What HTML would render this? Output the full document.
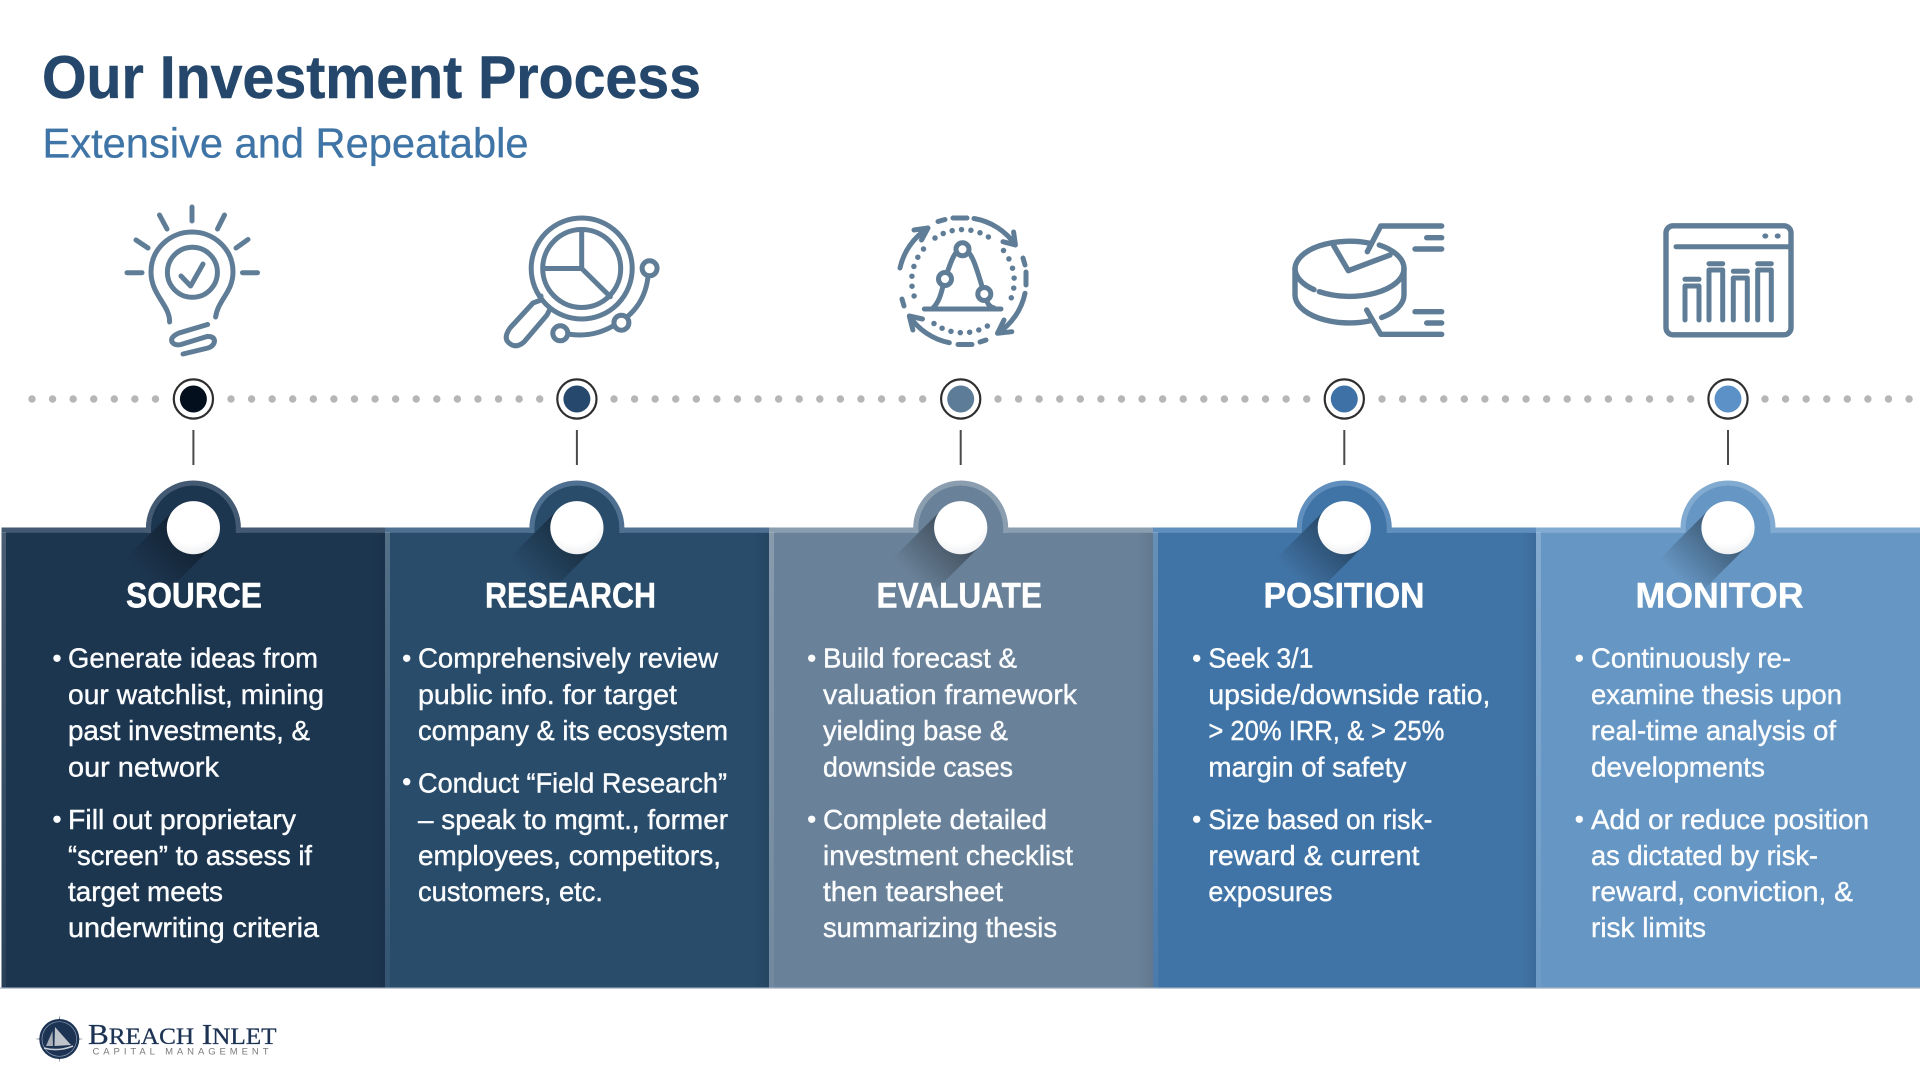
<!DOCTYPE html>
<html><head><meta charset="utf-8"><title>Our Investment Process</title>
<style>
html,body{margin:0;padding:0;background:#fff}
svg{display:block}
text{font-family:"Liberation Sans",sans-serif}
.b{font-size:28px;fill:#fbfcfd;stroke:#fbfcfd;stroke-width:.4}
.h{font-size:35px;font-weight:700;fill:#fff;stroke:#fff;stroke-width:.4}
.ic{fill:none;stroke:#5f7d96;stroke-width:5;stroke-linecap:round;stroke-linejoin:round}
</style></head><body>
<svg width="1920" height="1080" viewBox="0 0 1920 1080" xmlns="http://www.w3.org/2000/svg">
<defs>
<linearGradient id="sh" gradientUnits="userSpaceOnUse" x1="0" y1="0" x2="-50" y2="50"><stop offset="0.2" stop-color="#000" stop-opacity=".34"/><stop offset="1" stop-color="#000" stop-opacity="0"/></linearGradient>
<radialGradient id="ball" cx=".45" cy=".3" r=".85"><stop offset=".6" stop-color="#fff"/><stop offset="1" stop-color="#e2e4e8"/></radialGradient>
<linearGradient id="edge" x1="0" x2="1" y1="0" y2="0"><stop offset="0" stop-color="#000" stop-opacity="0"/><stop offset="1" stop-color="#000" stop-opacity=".08"/></linearGradient>
<linearGradient id="lb" x1="0" x2="0" y1="0" y2="1"><stop offset="0" stop-color="#fff" stop-opacity=".2"/><stop offset="1" stop-color="#fff" stop-opacity=".05"/></linearGradient>
<g id="shadow"><polygon points="-18.7,-18.7 18.7,18.7 -45,82.4 -82.4,45" fill="url(#sh)"/></g>
</defs>
<rect width="1920" height="1080" fill="#fff"/>

<!-- Title -->
<text x="42" y="98" font-size="60" font-weight="700" fill="#24476b" stroke="#24476b" stroke-width=".5" textLength="659" lengthAdjust="spacingAndGlyphs">Our Investment Process</text>
<text x="42.5" y="157.5" font-size="42" fill="#3f74a6" stroke="#3f74a6" stroke-width=".3" textLength="486" lengthAdjust="spacingAndGlyphs">Extensive and Repeatable</text>

<!-- Icon 1: bulb -->
<g class="ic">
<path d="M192,207V221M159.5,215L167,229M224.5,215L217.5,229M136,240L148,248M248,239.5L236,248M127,272.7H142M242.5,272.7H257.5"/>
<path d="M169.6,322C170,305 151,295 151,272C151,249 170,232 192,232C214,232 233,249 233,272C233,292 218,300 215.6,317"/>
<circle cx="192.4" cy="272.3" r="25"/>
<path d="M181,276L190.6,286L203,264"/>
<path d="M207.6,324.5L179,333Q170,337 172,342Q175,346 181,344.5L207,336.5Q214,336 214.5,341Q214,346 208,348L183,354"/>
</g>

<!-- Icon 2: magnifier -->
<g class="ic">
<circle cx="581.7" cy="268.5" r="50.5"/>
<circle cx="581.7" cy="268.5" r="39"/>
<path d="M581.7,230V268.5H544M581.7,268.5L610.3,296.7"/>
<path d="M541,296L541,300L533,303L510,328Q503,338 509,343Q516,349 524,342L547,315L550,309"/>
<circle cx="649.6" cy="268.3" r="7.5"/>
<circle cx="621.4" cy="322.7" r="7.5"/>
<circle cx="560.3" cy="333.3" r="7.5"/>
<path d="M648,277Q645,302 627,317M613,326Q592,338 568,334"/>
</g>

<!-- Icon 3: cycle -->
<g class="ic">
<path d="M900,268A63,63 0 0 1 927.9,228.3M914,230L928,228L921.5,240"/>
<path d="M974,218.5A63,63 0 0 1 1015.4,245M1013.6,232L1015.4,245L1003,241.7"/>
<path d="M1025,293.3A63,63 0 0 1 997.5,333.3M1011.8,331.7L997.5,333.3L1004,320"/>
<path d="M949.3,342.7A63,63 0 0 1 909.3,316M922.5,319L909.3,316L912.9,330"/>
<path d="M938,221.5L945,219.5M953,218H967M902,299L904,306M1023,258L1025,265M1026,272V285M958,344.5H972M980,342L986,340"/>
<path stroke-dasharray="0 9.4" stroke-width="5.5" d="M935,238A49,49 0 0 1 990,238"/>
<path stroke-dasharray="0 10" stroke-width="5.5" d="M923.5,249A49,49 0 0 0 917,303"/>
<path stroke-dasharray="0 9.4" stroke-width="5.5" d="M934,323.5A49,49 0 0 0 989,325"/>
<path stroke-dasharray="0 10" stroke-width="5.5" d="M1003.5,250.5A49,49 0 0 1 1008,305"/>
<path d="M924.3,309H1001M933,308C941,300 942,288 945,279C950,265 954,249 962.5,249C972,249 977,270 984.3,294C987,303 989,307 994,308"/>
<circle cx="945" cy="279" r="6.5" fill="#fff"/>
<circle cx="962.5" cy="249.3" r="6.5" fill="#fff"/>
<circle cx="984.3" cy="294" r="6.5" fill="#fff"/>
</g>

<!-- Icon 4: pie -->
<g class="ic" style="stroke-width:5.4">
<path d="M1370,243.3A54.5,28 0 0 0 1295,268.3A54.5,28 0 0 0 1314,289.6"/>
<path d="M1319.3,291.7A54.5,28 0 0 0 1404,268.3A54.5,28 0 0 0 1379.3,245"/>
<path d="M1333.3,245L1348.3,270.7L1390,255"/>
<path d="M1295,268.3V295A54.5,28 0 0 0 1370,320.9"/>
<path d="M1404,268.3V295A54.5,28 0 0 1 1381.7,317.5"/>
<path d="M1367.3,251.7L1380.7,226H1441.7M1366.7,310L1380.7,334.3H1441.7"/>
<path d="M1426.7,237.7H1441.7M1415,249H1441.7M1415,311.7H1441.7M1426.7,323H1441.7"/>
</g>

<!-- Icon 5: browser chart -->
<g class="ic">
<rect x="1666" y="225.8" width="125" height="109" rx="7" style="stroke-width:5.4"/>
<path d="M1676,246.7H1789"/>
<path d="M1685,320V286H1699V320M1709,320V270H1722.7V320M1733.3,320V278H1747.3V320M1757.7,320V270H1771.3V320"/>
<path d="M1685,279.3H1699M1709,263.7H1722.7M1733.3,271.3H1747.3M1757.7,263.7H1771.3"/>
</g>
<ellipse cx="1765.3" cy="236" rx="3" ry="2.6" fill="#5f7d96"/>
<ellipse cx="1777.7" cy="236" rx="3" ry="2.6" fill="#5f7d96"/>

<!-- Dotted timeline -->
<g stroke="#b6b6b6" stroke-width="7.4" stroke-linecap="round" stroke-dasharray="0 20.58" fill="none">
<line x1="32" y1="399" x2="157" y2="399"/>
<line x1="231" y1="399" x2="541" y2="399"/>
<line x1="614" y1="399" x2="924" y2="399"/>
<line x1="998" y1="399" x2="1308" y2="399"/>
<line x1="1382" y1="399" x2="1692" y2="399"/>
<line x1="1765" y1="399" x2="1911" y2="399"/>
</g>
<g fill="#fff" stroke="#2f2f2f" stroke-width="2.2">
<circle cx="193.4" cy="399" r="19.6"/><circle cx="576.9" cy="399" r="19.6"/><circle cx="960.7" cy="399" r="19.6"/><circle cx="1344.3" cy="399" r="19.6"/><circle cx="1728" cy="399" r="19.6"/>
</g>
<circle cx="193.4" cy="399" r="13.5" fill="#040f1d"/>
<circle cx="576.9" cy="399" r="13.5" fill="#25486c"/>
<circle cx="960.7" cy="399" r="13.5" fill="#5d7c98"/>
<circle cx="1344.3" cy="399" r="13.5" fill="#3e72a6"/>
<circle cx="1728" cy="399" r="13.5" fill="#5b91c6"/>
<g stroke="#4a4a4a" stroke-width="2">
<line x1="193.4" y1="430" x2="193.4" y2="465"/><line x1="576.9" y1="430" x2="576.9" y2="465"/><line x1="960.7" y1="430" x2="960.7" y2="465"/><line x1="1344.3" y1="430" x2="1344.3" y2="465"/><line x1="1728" y1="430" x2="1728" y2="465"/>
</g>

<!-- Panels -->
<rect x="1.5" y="527.5" width="384" height="460.5" fill="#1d3650"/>
<rect x="385" y="527.5" width="384" height="460.5" fill="#294c6b"/>
<rect x="769" y="527.5" width="384" height="460.5" fill="#6a8299"/>
<rect x="1153" y="527.5" width="383" height="460.5" fill="#4174a6"/>
<rect x="1536" y="527.5" width="384" height="460.5" fill="#6696c3"/>
<!-- right-edge shadows -->
<rect x="369" y="533" width="16" height="455" fill="url(#edge)"/>
<rect x="753" y="533" width="16" height="455" fill="url(#edge)"/>
<rect x="1137" y="533" width="16" height="455" fill="url(#edge)"/>
<rect x="1520" y="533" width="16" height="455" fill="url(#edge)"/>
<!-- light bands -->
<rect x="1.5" y="527.5" width="384" height="5.3" fill="#435a72"/><rect x="1.5" y="532" width="4.5" height="456" fill="url(#lb)"/>
<rect x="385" y="527.5" width="384" height="5.3" fill="#4f7090"/><rect x="385" y="532" width="5" height="456" fill="url(#lb)"/>
<rect x="769" y="527.5" width="384" height="5.3" fill="#8a9eb0"/><rect x="769" y="532" width="5" height="456" fill="url(#lb)"/>
<rect x="1153" y="527.5" width="383" height="5.3" fill="#618fbd"/><rect x="1153" y="532" width="5" height="456" fill="url(#lb)"/>
<rect x="1536" y="527.5" width="384" height="5.3" fill="#82abd2"/><rect x="1536" y="532" width="5" height="456" fill="url(#lb)"/>
<rect x="0" y="987.5" width="1920" height="1.2" fill="#a9b6c4"/>

<!-- Domes -->
<g>
<path d="M145.9,533V528A47.5,47.5 0 0 1 240.9,528V533Z" fill="#435a72"/><path d="M151,535V528A42.4,42.4 0 0 1 235.8,528V535Z" fill="#1d3650"/>
<path d="M529.4,533V528A47.5,47.5 0 0 1 624.4,528V533Z" fill="#4f7090"/><path d="M534.5,535V528A42.4,42.4 0 0 1 619.3,528V535Z" fill="#294c6b"/>
<path d="M913.2,533V528A47.5,47.5 0 0 1 1008.2,528V533Z" fill="#8a9eb0"/><path d="M918.3,535V528A42.4,42.4 0 0 1 1003.1,528V535Z" fill="#6a8299"/>
<path d="M1296.8,533V528A47.5,47.5 0 0 1 1391.8,528V533Z" fill="#618fbd"/><path d="M1301.9,535V528A42.4,42.4 0 0 1 1386.7,528V535Z" fill="#4174a6"/>
<path d="M1680.5,533V528A47.5,47.5 0 0 1 1775.5,528V533Z" fill="#82abd2"/><path d="M1685.6,535V528A42.4,42.4 0 0 1 1770.4,528V535Z" fill="#6696c3"/>
</g>
<use href="#shadow" x="193.4" y="528"/><use href="#shadow" x="576.9" y="528"/><use href="#shadow" x="960.7" y="528"/><use href="#shadow" x="1344.3" y="528"/><use href="#shadow" x="1728" y="528"/>
<g fill="url(#ball)">
<circle cx="193.4" cy="527.7" r="26.6"/><circle cx="576.9" cy="527.7" r="26.6"/><circle cx="960.7" cy="527.7" r="26.6"/><circle cx="1344.3" cy="527.7" r="26.6"/><circle cx="1728" cy="527.7" r="26.6"/>
</g>

<!-- Headers -->
<text class="h" x="126" y="607.7" textLength="136" lengthAdjust="spacingAndGlyphs">SOURCE</text>
<text class="h" x="485" y="607.7" textLength="171" lengthAdjust="spacingAndGlyphs">RESEARCH</text>
<text class="h" x="876.5" y="607.7" textLength="165.5" lengthAdjust="spacingAndGlyphs">EVALUATE</text>
<text class="h" x="1263.5" y="607.7" textLength="161" lengthAdjust="spacingAndGlyphs">POSITION</text>
<text class="h" x="1635.5" y="607.7" textLength="168" lengthAdjust="spacingAndGlyphs">MONITOR</text>

<!-- Bullets -->
<g fill="#fbfcfd">
<circle cx="57" cy="658.3" r="3.7"/><circle cx="57" cy="819.3" r="3.7"/>
<circle cx="406.7" cy="658.3" r="3.7"/><circle cx="406.7" cy="781.7" r="3.7"/>
<circle cx="811.7" cy="658.3" r="3.7"/><circle cx="811.7" cy="819.3" r="3.7"/>
<circle cx="1196.7" cy="658.3" r="3.7"/><circle cx="1196.7" cy="819.3" r="3.7"/>
<circle cx="1579.3" cy="658.3" r="3.7"/><circle cx="1579.3" cy="819.3" r="3.7"/>
</g>

<!-- Panel 1 text -->
<g>
<text class="b" x="68" y="667.7" textLength="250" lengthAdjust="spacingAndGlyphs">Generate ideas from</text>
<text class="b" x="68" y="704" textLength="256" lengthAdjust="spacingAndGlyphs">our watchlist, mining</text>
<text class="b" x="68" y="740" textLength="242" lengthAdjust="spacingAndGlyphs">past investments, &amp;</text>
<text class="b" x="68" y="776.5" textLength="151" lengthAdjust="spacingAndGlyphs">our network</text>
<text class="b" x="68" y="829" textLength="228" lengthAdjust="spacingAndGlyphs">Fill out proprietary</text>
<text class="b" x="68" y="865" textLength="244" lengthAdjust="spacingAndGlyphs">“screen” to assess if</text>
<text class="b" x="68" y="901" textLength="155" lengthAdjust="spacingAndGlyphs">target meets</text>
<text class="b" x="68" y="937" textLength="251" lengthAdjust="spacingAndGlyphs">underwriting criteria</text>
</g>
<!-- Panel 2 text -->
<g>
<text class="b" x="418" y="667.7" textLength="300" lengthAdjust="spacingAndGlyphs">Comprehensively review</text>
<text class="b" x="418" y="704" textLength="259" lengthAdjust="spacingAndGlyphs">public info. for target</text>
<text class="b" x="418" y="740" textLength="310" lengthAdjust="spacingAndGlyphs">company &amp; its ecosystem</text>
<text class="b" x="418" y="792.7" textLength="309" lengthAdjust="spacingAndGlyphs">Conduct “Field Research”</text>
<text class="b" x="418" y="829" textLength="310" lengthAdjust="spacingAndGlyphs">– speak to mgmt., former</text>
<text class="b" x="418" y="865" textLength="303" lengthAdjust="spacingAndGlyphs">employees, competitors,</text>
<text class="b" x="418" y="901" textLength="185" lengthAdjust="spacingAndGlyphs">customers, etc.</text>
</g>
<!-- Panel 3 text -->
<g>
<text class="b" x="823" y="667.7" textLength="194" lengthAdjust="spacingAndGlyphs">Build forecast &amp;</text>
<text class="b" x="823" y="704" textLength="254" lengthAdjust="spacingAndGlyphs">valuation framework</text>
<text class="b" x="823" y="740" textLength="185" lengthAdjust="spacingAndGlyphs">yielding base &amp;</text>
<text class="b" x="823" y="776.5" textLength="190" lengthAdjust="spacingAndGlyphs">downside cases</text>
<text class="b" x="823" y="829" textLength="224" lengthAdjust="spacingAndGlyphs">Complete detailed</text>
<text class="b" x="823" y="865" textLength="250" lengthAdjust="spacingAndGlyphs">investment checklist</text>
<text class="b" x="823" y="901" textLength="180" lengthAdjust="spacingAndGlyphs">then tearsheet</text>
<text class="b" x="823" y="937" textLength="234" lengthAdjust="spacingAndGlyphs">summarizing thesis</text>
</g>
<!-- Panel 4 text -->
<g>
<text class="b" x="1208.4" y="667.7" textLength="105" lengthAdjust="spacingAndGlyphs">Seek 3/1</text>
<text class="b" x="1208.4" y="704" textLength="282" lengthAdjust="spacingAndGlyphs">upside/downside ratio,</text>
<text class="b" x="1208.4" y="740" textLength="236" lengthAdjust="spacingAndGlyphs">&gt; 20% IRR, &amp; &gt; 25%</text>
<text class="b" x="1208.4" y="776.5" textLength="198" lengthAdjust="spacingAndGlyphs">margin of safety</text>
<text class="b" x="1208.4" y="829" textLength="224" lengthAdjust="spacingAndGlyphs">Size based on risk-</text>
<text class="b" x="1208.4" y="865" textLength="211" lengthAdjust="spacingAndGlyphs">reward &amp; current</text>
<text class="b" x="1208.4" y="901" textLength="124" lengthAdjust="spacingAndGlyphs">exposures</text>
</g>
<!-- Panel 5 text -->
<g>
<text class="b" x="1591" y="667.7" textLength="200" lengthAdjust="spacingAndGlyphs">Continuously re-</text>
<text class="b" x="1591" y="704" textLength="251" lengthAdjust="spacingAndGlyphs">examine thesis upon</text>
<text class="b" x="1591" y="740" textLength="245" lengthAdjust="spacingAndGlyphs">real-time analysis of</text>
<text class="b" x="1591" y="776.5" textLength="174" lengthAdjust="spacingAndGlyphs">developments</text>
<text class="b" x="1591" y="829" textLength="278" lengthAdjust="spacingAndGlyphs">Add or reduce position</text>
<text class="b" x="1591" y="865" textLength="227" lengthAdjust="spacingAndGlyphs">as dictated by risk-</text>
<text class="b" x="1591" y="901" textLength="262" lengthAdjust="spacingAndGlyphs">reward, conviction, &amp;</text>
<text class="b" x="1591" y="937" textLength="115" lengthAdjust="spacingAndGlyphs">risk limits</text>
</g>

<!-- Logo -->
<polygon points="59.3,1015 61.3,1037 59.3,1063 57.3,1037" fill="#1c3353"/>
<polygon points="35,1039 57,1037 83.5,1039 61,1041" fill="#1c3353"/>
<circle cx="59.3" cy="1039" r="20" fill="#1c3353"/>
<circle cx="59.3" cy="1039" r="17.3" fill="none" stroke="#8d9db1" stroke-width=".7"/>
<polygon points="55,1027 71,1045 54.5,1046" fill="#bfc3ca"/>
<polygon points="52.5,1031 53,1046 46,1046" fill="#a9afb8"/>
<path d="M44,1048Q58,1052 73,1046" fill="none" stroke="#c9ced6" stroke-width="1.6"/>
<text x="88" y="1044" font-size="29" fill="#1c3353" stroke="#1c3353" stroke-width=".3" style="font-family:'Liberation Serif',serif" textLength="188.5" lengthAdjust="spacingAndGlyphs">B<tspan font-size="23.5">REACH</tspan> I<tspan font-size="23.5">NLET</tspan></text>
<text x="92.5" y="1054.3" font-size="9.5" fill="#7a7a7a" textLength="176" lengthAdjust="spacing">CAPITAL MANAGEMENT</text>
</svg>
</body></html>
